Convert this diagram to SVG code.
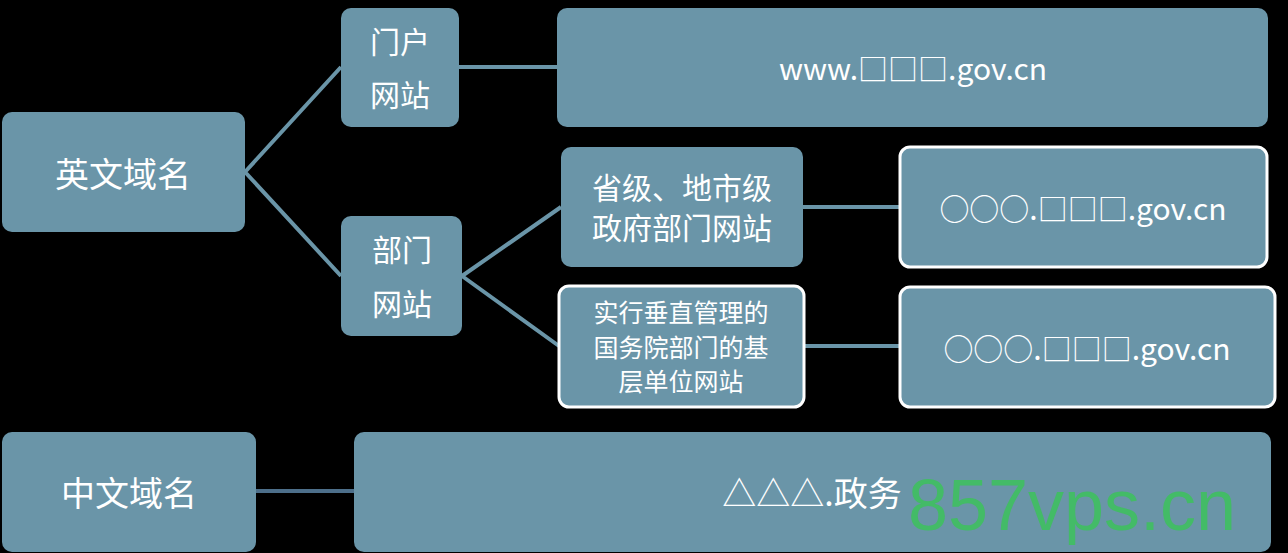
<svg xmlns="http://www.w3.org/2000/svg" width="1288" height="553" viewBox="0 0 1288 553">
<style>
.b{fill:#6a95a8}
.w{stroke:#fff;stroke-width:3}
.t{font-family:"Noto Sans CJK SC",sans-serif;fill:#fff;text-anchor:middle;dominant-baseline:central}
.l{stroke:#6a95a8;stroke-width:4;fill:none}
</style>
<rect width="1288" height="553" fill="#000"/>
<g id="connectors">
<path class="l" d="M245,172L341,67M245,172L341,276M459,67H557M462,276L561,207M462,276L559,346M803,207H900M804,346H900"/>
<path d="M256,491H354" stroke="#4d6f8a" stroke-width="4"/>
</g>
<g id="n1"><rect class="b" x="2" y="112" width="243" height="120" rx="10"/><text class="t" x="123" y="172" font-size="34">英文域名</text></g>
<g id="n2"><rect class="b" x="341" y="8" width="118" height="119" rx="10"/><text class="t" x="400" y="40" font-size="30">门户</text><text class="t" x="400" y="93" font-size="30">网站</text></g>
<g id="n3"><rect class="b" x="557" y="8" width="711" height="119" rx="10"/><text class="t" x="913" y="67" font-size="30" font-family="Liberation Mono,monospace">www.□□□.gov.cn</text></g>
<g id="n4"><rect class="b" x="341" y="216" width="121" height="120" rx="10"/><text class="t" x="402" y="248" font-size="30">部门</text><text class="t" x="402" y="302" font-size="30">网站</text></g>
<g id="n5"><rect class="b" x="561" y="147" width="242" height="120" rx="10"/><text class="t" x="682" y="186" font-size="30">省级、地市级</text><text class="t" x="682" y="226" font-size="30">政府部门网站</text></g>
<g id="n6"><rect class="b w" x="900" y="147" width="367" height="120" rx="10"/><text class="t" x="1083" y="207" font-size="30">○○○.□□□.gov.cn</text></g>
<g id="n7"><rect class="b w" x="559" y="286" width="245" height="121" rx="10"/><text class="t" x="681" y="311" font-size="25">实行垂直管理的</text><text class="t" x="681" y="346" font-size="25">国务院部门的基</text><text class="t" x="681" y="380" font-size="25">层单位网站</text></g>
<g id="n8"><rect class="b w" x="900" y="287" width="375" height="120" rx="10"/><text class="t" x="1087" y="347" font-size="30">○○○.□□□.gov.cn</text></g>
<g id="n9"><rect class="b" x="2" y="432" width="254" height="120" rx="10"/><text class="t" x="129" y="491" font-size="34">中文域名</text></g>
<g id="n10"><rect class="b" x="354" y="432" width="917" height="120" rx="10"/><text class="t" x="812" y="491" font-size="34">△△△.政务</text></g>
<text x="1072" y="530" font-family="Liberation Sans,sans-serif" font-size="72" fill="#3fbf5f" fill-opacity="0.9" text-anchor="middle">857vps.cn</text>
</svg>
